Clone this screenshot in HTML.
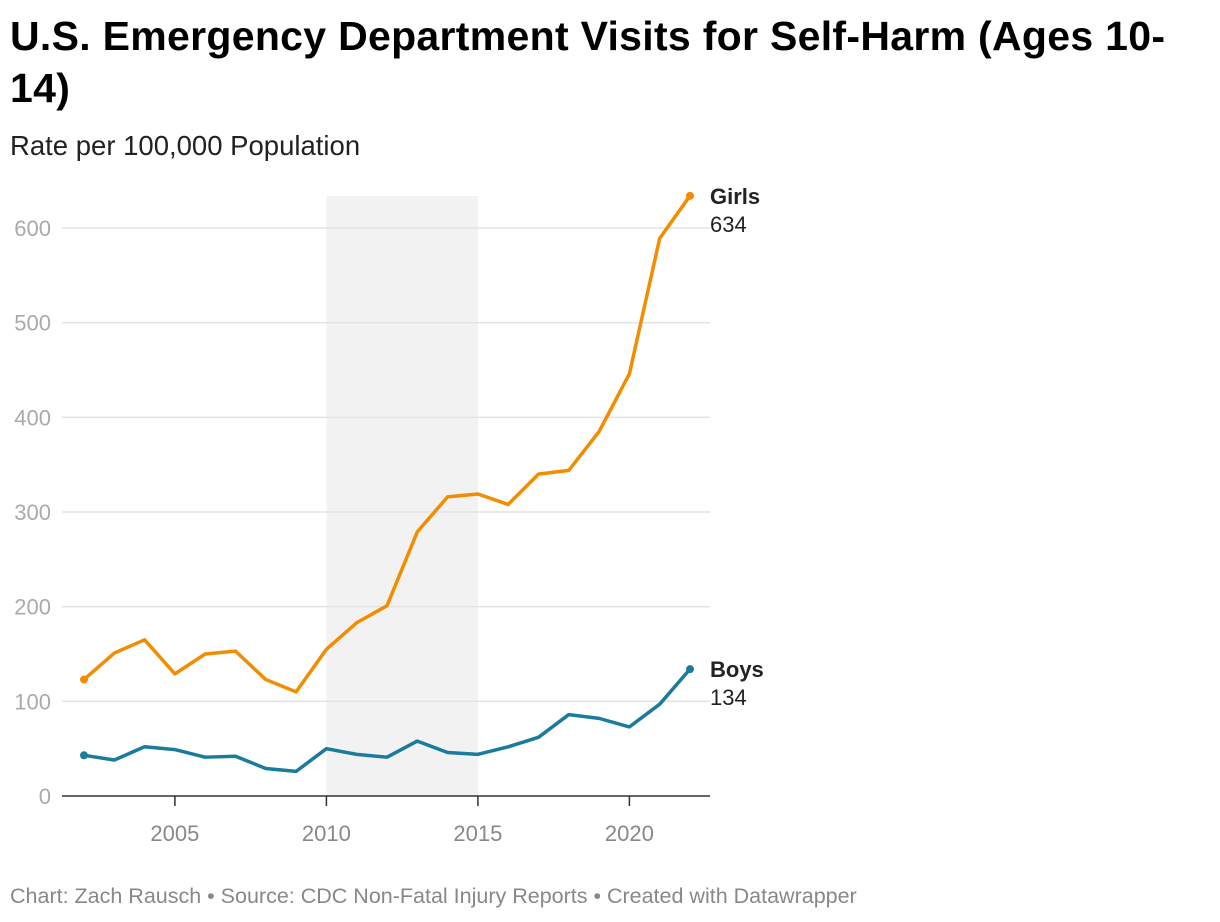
<!DOCTYPE html>
<html><head><meta charset="utf-8">
<style>
body{margin:0;background:#fff;width:1220px;height:922px;overflow:hidden;font-family:"Liberation Sans",sans-serif}
#title{position:absolute;left:10px;top:10px;width:1200px;font-size:41px;font-weight:bold;line-height:52px;color:#000;margin:0;letter-spacing:0.3px}
#sub{position:absolute;left:10px;top:130px;font-size:27.5px;color:#222}
#foot{position:absolute;left:10px;top:884px;font-size:21.5px;color:#888}
svg{position:absolute;left:0;top:0}
</style></head><body>
<h1 id="title">U.S. Emergency Department Visits for Self-Harm (Ages 10-<br>14)</h1>
<div id="sub">Rate per 100,000 Population</div>
<div id="foot">Chart: Zach Rausch • Source: CDC Non-Fatal Injury Reports • Created with Datawrapper</div>
<svg id="chart" width="1220" height="922"></svg>
<script>
const years=[2002,2003,2004,2005,2006,2007,2008,2009,2010,2011,2012,2013,2014,2015,2016,2017,2018,2019,2020,2021,2022];
const girls=[123,151,165,129,150,153,123,110,155,183,201,279,316,319,308,340,344,385,446,589,634];
const boys=[43,38,52,49,41,42,29,26,50,44,41,58,46,44,52,62,86,82,73,97,134];
const yTicks=[0,100,200,300,400,500,600];
const xTicks=[2005,2010,2015,2020];
const shade=[2010,2015];
const NS="http://www.w3.org/2000/svg";
const svg=document.getElementById('chart');
const x=v=>84+(v-2002)*(690-84)/20;
const y=v=>796-v*(796-228)/600;
function mk(t,a){const e=document.createElementNS(NS,t);for(const k in a)e.setAttribute(k,a[k]);svg.appendChild(e);return e;}
let r=mk('rect',{x:x(shade[0]),y:196,width:x(shade[1])-x(shade[0]),height:796-196,fill:'#f2f2f2'});


yTicks.forEach(t=>{
 if(t>0){const g=mk('line',{x1:62,x2:710,y1:y(t),y2:y(t),stroke:'#e3e3e3','stroke-width':1.5});
 
 }
 const l=mk('text',{x:51,y:y(t)+8,'text-anchor':'end','font-size':22,fill:'#aaa'});l.textContent=t;
 
 
});
xTicks.forEach(t=>{
 const tk=mk('line',{x1:x(t),x2:x(t),y1:796,y2:806,stroke:'#333','stroke-width':1.5});
 
 
 const l=mk('text',{x:x(t),y:841,'text-anchor':'middle','font-size':22,fill:'#888'});l.textContent=t;
 
 
});
const ax=mk('line',{x1:62,x2:710,y1:796,y2:796,stroke:'#333','stroke-width':1.5});


function series(vals,color,name,label){
 const p=mk('polyline',{points:vals.map((v,i)=>x(years[i])+','+y(v)).join(' '),fill:'none',stroke:color,'stroke-width':3.5,'stroke-linejoin':'round'});
 
 
 [0,vals.length-1].forEach(i=>{const c=mk('circle',{cx:x(years[i]),cy:y(vals[i]),r:4,fill:color});
 
 });
 const last=vals[vals.length-1];
 const t1=mk('text',{x:710,y:y(last)+8,'font-size':22,'font-weight':'bold',fill:'#222'});t1.textContent=label;
 
 
 const t2=mk('text',{x:710,y:y(last)+36,'font-size':22,fill:'#222'});t2.textContent=last;
 
 
}
series(girls,'#f28c00','girls','Girls');
series(boys,'#1a7b9c','boys','Boys');
</script>
</body></html>
